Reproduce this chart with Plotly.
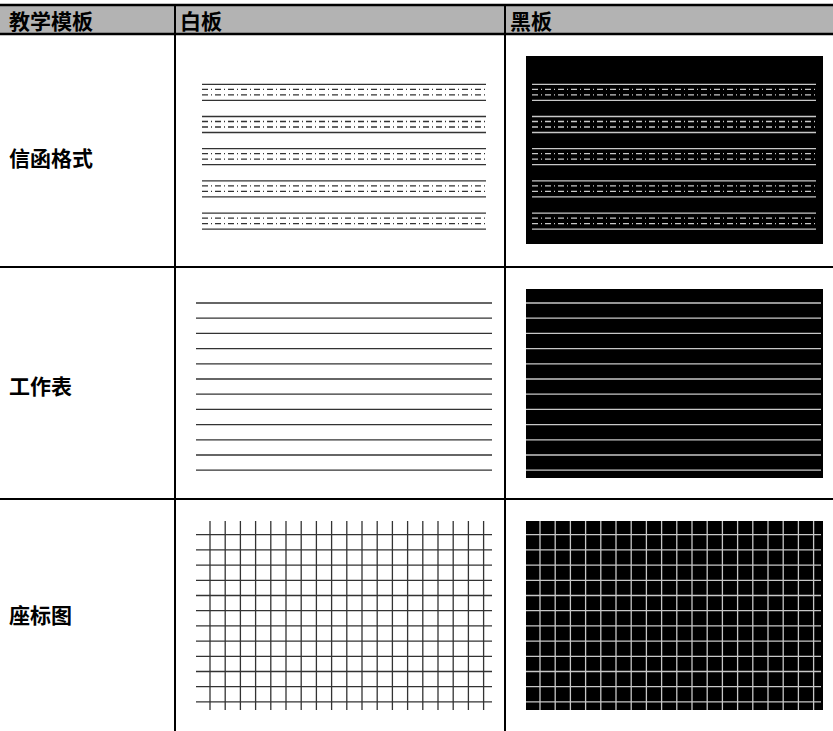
import plotly.graph_objects as go

# ---- content ----
columns = ["教学模板", "白板", "黑板"]
templates = ["信函格式", "工作表", "座标图"]
letter_groups = 5          # 信函格式: groups of (solid, dash, dash, solid)
letter_offsets = [0, 5, 10.5, 16]
letter_styles = ["solid", "dash", "dash", "solid"]
ruled_lines = 12           # 工作表: horizontal lines
grid_rows = 12             # 座标图: horizontal lines
grid_cols = 19             # 座标图: vertical lines

# ---- layout constants (pixels) ----
W, H = 833, 731
col_x = [0, 175, 505, W]
header_top, header_bot = 5, 34
row_y = [34, 267, 499, H]
label_y = [157, 385, 614]
STEP = 15.2
GROUP_STEP = 32.2
DASH = "6px,3px,1px,3px"

dark_line = "#333333"
light_line = "#c8c8c8"

shapes = []

def line(x0, y0, x1, y1, color, width=1, dash="solid"):
    shapes.append(dict(type="line", xref="x", yref="y", x0=x0, y0=y0, x1=x1, y1=y1,
                       line=dict(color=color, width=width, dash=dash), layer="above"))

def rect(x0, y0, x1, y1, fill):
    shapes.append(dict(type="rect", xref="x", yref="y", x0=x0, y0=y0, x1=x1, y1=y1,
                       fillcolor=fill, line=dict(width=0), layer="below"))

# header background
rect(0, header_top, W, header_bot, "#b3b3b3")

# black panels
black_panels = [(526, 56, 823, 244), (526, 289, 823, 478), (526, 521, 823, 710)]
for p in black_panels:
    rect(*p, "#000000")

# ---- row 1: letter format ----
for g in range(letter_groups):
    base = 84.3 + g * GROUP_STEP
    for off, st in zip(letter_offsets, letter_styles):
        y = base + off
        d = DASH if st == "dash" else "solid"
        line(202, y, 486, y, dark_line, 1.3, d)
        line(532, y, 816, y, light_line, 1.3, d)

# ---- row 2: worksheet ----
for i in range(ruled_lines):
    y = 303 + i * STEP
    line(196, y, 492, y, dark_line, 1.3)
    line(526, y, 821, y, light_line, 1.3)

# ---- row 3: graph paper ----
for i in range(grid_rows):
    y = 534.7 + i * STEP
    line(196, y, 492, y, dark_line, 1.3)
    line(526, y, 821, y, light_line, 1.3)
for j in range(grid_cols):
    line(210 + j * STEP, 521, 210 + j * STEP, 710, dark_line, 1.3)
    line(540 + j * STEP, 521, 540 + j * STEP, 710, light_line, 1.3)

# ---- table borders ----
line(0, header_top, W, header_top, "#000000", 2.5)
line(0, header_bot, W, header_bot, "#000000", 2.5)
for y in row_y[1:-1]:
    line(0, y, W, y, "#000000", 2)
for x in col_x[1:-1]:
    line(x, header_top, x, H, "#000000", 2)

# ---- text ----
font = dict(family="Noto Sans CJK SC", size=21, color="#000000", weight=700)
annotations = []
header_x = [7, 178, 508]
for txt, x in zip(columns, header_x):
    annotations.append(dict(x=x, y=20, xref="x", yref="y", text=txt, showarrow=False,
                            xanchor="left", yanchor="middle", font=font))
for txt, y in zip(templates, label_y):
    annotations.append(dict(x=7, y=y, xref="x", yref="y", text=txt, showarrow=False,
                            xanchor="left", yanchor="middle", font=font))

fig = go.Figure()
fig.add_trace(go.Scatter(x=[0, W], y=[0, H], mode="markers",
                         marker=dict(opacity=0), hoverinfo="skip", showlegend=False))
fig.update_layout(
    width=W, height=H,
    margin=dict(l=0, r=0, t=0, b=0),
    paper_bgcolor="white", plot_bgcolor="white",
    xaxis=dict(range=[0, W], visible=False, fixedrange=True),
    yaxis=dict(range=[H, 0], visible=False, fixedrange=True),
    shapes=shapes, annotations=annotations, showlegend=False,
)
fig.write_html("out.html", config={"displayModeBar": False},
               post_script="document.body.style.margin='0px';document.body.style.overflow='hidden';")
